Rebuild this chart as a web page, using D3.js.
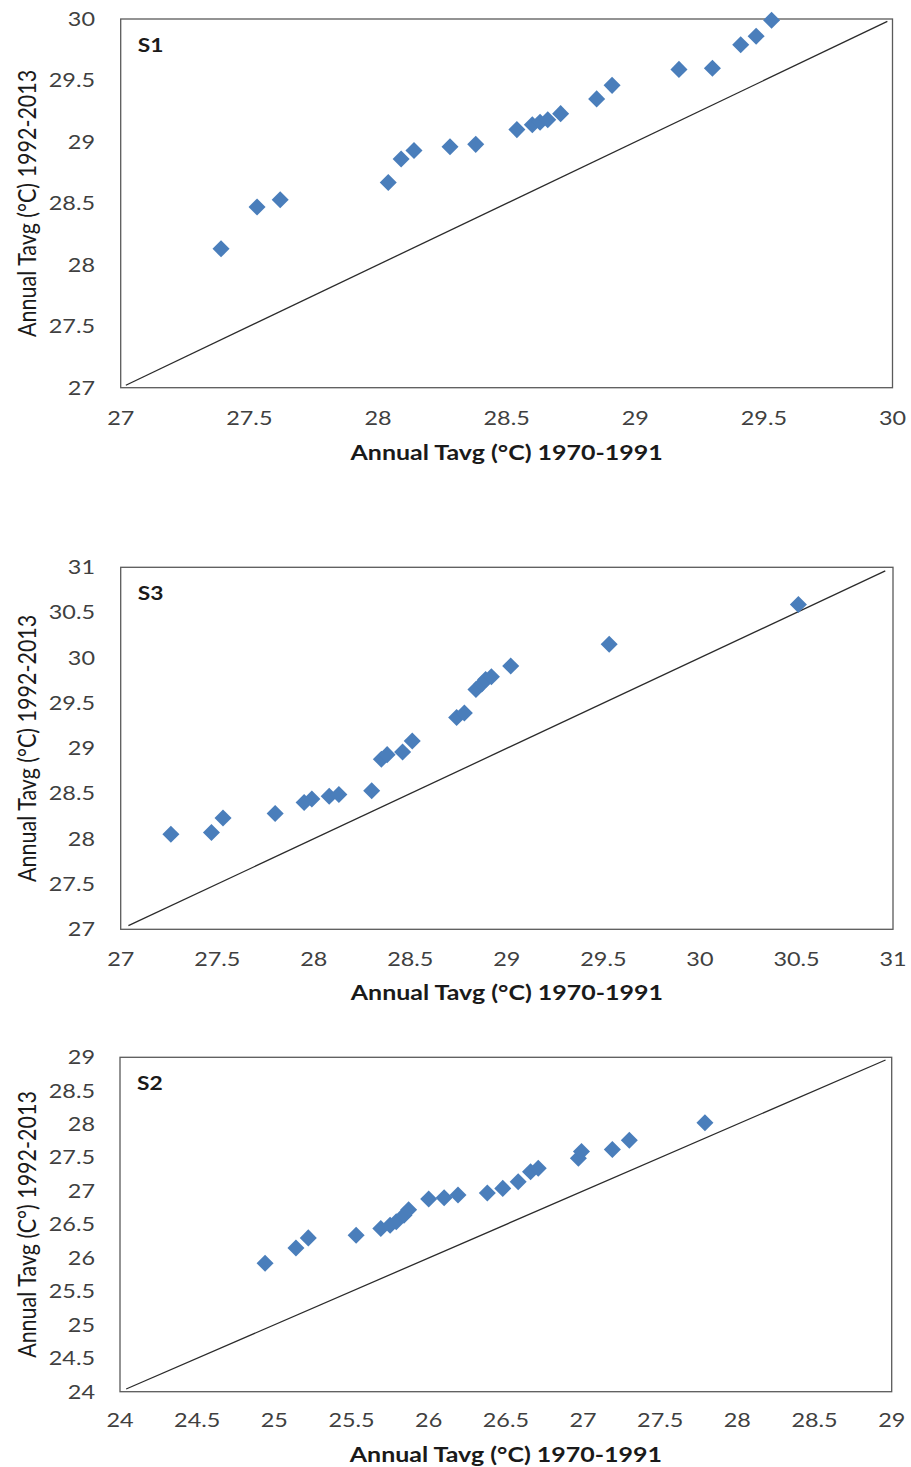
<!DOCTYPE html>
<html>
<head>
<meta charset="utf-8">
<script src="https://cdn.jsdelivr.net/npm/d3@7"></script>
<style>
  html, body { margin: 0; padding: 0; background: #fff; }
  svg { display: block; }
</style>
</head>
<body>
<svg id="chart" width="911" height="1467"></svg>
<script>
// Station S1: annual mean temperature, 1970-1991 (x) vs 1992-2013 (y)
const s1X = [27.39, 27.53, 27.62, 28.04, 28.09, 28.14, 28.28, 28.38, 28.54, 28.60,
             28.63, 28.66, 28.71, 28.85, 28.91, 29.17, 29.30, 29.41, 29.47, 29.53];
const s1Y = [28.13, 28.47, 28.53, 28.67, 28.86, 28.93, 28.96, 28.98, 29.10, 29.14,
             29.16, 29.18, 29.23, 29.35, 29.46, 29.59, 29.60, 29.79, 29.86, 29.99];
const s1Ticks = [27, 27.5, 28, 28.5, 29, 29.5, 30];
const s1Line = [27.02, 29.98];

// Station S3
const s3X = [27.26, 27.47, 27.53, 27.80, 27.95, 27.99, 28.08, 28.13, 28.30, 28.35, 28.38,
             28.46, 28.51, 28.74, 28.78, 28.84, 28.87, 28.89, 28.92, 29.02, 29.53, 30.51];
const s3Y = [28.05, 28.07, 28.23, 28.28, 28.40, 28.44, 28.47, 28.49, 28.53, 28.88, 28.93,
             28.96, 29.08, 29.34, 29.39, 29.65, 29.71, 29.76, 29.79, 29.91, 30.15, 30.59];
const s3Ticks = [27, 27.5, 28, 28.5, 29, 29.5, 30, 30.5, 31];
const s3Line = [27.04, 30.96];

// Station S2
const s2X = [24.94, 25.14, 25.22, 25.53, 25.69, 25.75, 25.79, 25.84, 25.87, 26.00, 26.10,
             26.19, 26.38, 26.48, 26.58, 26.66, 26.71, 26.97, 26.99, 27.19, 27.30, 27.79];
const s2Y = [25.92, 26.15, 26.30, 26.34, 26.44, 26.49, 26.54, 26.64, 26.72, 26.88, 26.90,
             26.94, 26.97, 27.04, 27.14, 27.29, 27.34, 27.49, 27.59, 27.62, 27.76, 28.02];
const s2Ticks = [24, 24.5, 25, 25.5, 26, 26.5, 27, 27.5, 28, 28.5, 29];
const s2Line = [24.04, 28.96];

const xTitle = "Annual Tavg (°C) 1970-1991";

const panels = [
  { name: "S1", xs: s1X, ys: s1Y, ticks: s1Ticks, line: s1Line,
    yTitle: "Annual Tavg (°C) 1992-2013",
    box: { left: 120.7, right: 892.5, top: 19, bottom: 387.7 },
    xLabelY: 418, xTitleY: 453 },
  { name: "S3", xs: s3X, ys: s3Y, ticks: s3Ticks, line: s3Line,
    yTitle: "Annual Tavg (°C) 1992-2013",
    box: { left: 120.7, right: 893, top: 567.3, bottom: 929.3 },
    xLabelY: 959, xTitleY: 993 },
  { name: "S2", xs: s2X, ys: s2Y, ticks: s2Ticks, line: s2Line,
    yTitle: "Annual Tavg (C°) 1992-2013",
    box: { left: 120, right: 891.7, top: 1057.3, bottom: 1391.7 },
    xLabelY: 1420, xTitleY: 1455 }
];

const svg = d3.select("#chart");
const FONT = "Lato, 'Open Sans', sans-serif";
const STRETCH = 1.2;           // glyphs are drawn slightly wide
const markerColor = "#4a7ebb";
const diamond = d3.symbol().type(d3.symbolDiamond2).size(185);

panels.forEach(p => {
  const b = p.box;
  const dom = d3.extent(p.ticks);
  const x = d3.scaleLinear().domain(dom).range([b.left, b.right]);
  const y = d3.scaleLinear().domain(dom).range([b.bottom, b.top]);
  const g = svg.append("g");

  // plot frame
  g.append("rect")
    .attr("x", b.left).attr("y", b.top)
    .attr("width", b.right - b.left).attr("height", b.bottom - b.top)
    .attr("fill", "none").attr("stroke", "#5a5a5a").attr("stroke-width", 1.3);

  // 1:1 reference line
  g.append("line")
    .attr("x1", x(p.line[0])).attr("y1", y(p.line[0]))
    .attr("x2", x(p.line[1])).attr("y2", y(p.line[1]))
    .attr("stroke", "#2b2b2b").attr("stroke-width", 1.3);

  // y tick labels
  g.selectAll(".ytick").data(p.ticks).join("text")
    .attr("transform", d => `translate(95,${y(d)}) scale(${STRETCH},1)`)
    .attr("dy", "0.35em")
    .attr("text-anchor", "end")
    .attr("font-family", FONT).attr("font-size", 19.5)
    .attr("fill", "#404040")
    .text(d => d);

  // x tick labels
  g.selectAll(".xtick").data(p.ticks).join("text")
    .attr("transform", d => `translate(${x(d)},${p.xLabelY}) scale(${STRETCH},1)`)
    .attr("dy", "0.35em")
    .attr("text-anchor", "middle")
    .attr("font-family", FONT).attr("font-size", 19.5)
    .attr("fill", "#404040")
    .text(d => d);

  // axis titles
  g.append("text")
    .attr("transform", `translate(${(b.left + b.right) / 2},${p.xTitleY}) scale(${STRETCH},1)`)
    .attr("dy", "0.35em")
    .attr("text-anchor", "middle")
    .attr("font-family", FONT).attr("font-size", 20.8).attr("font-weight", "bold")
    .attr("fill", "#1a1a1a")
    .text(xTitle);

  g.append("text")
    .attr("transform", `translate(27,${(b.top + b.bottom) / 2}) scale(${STRETCH},1) rotate(-90)`)
    .attr("dy", "0.35em")
    .attr("text-anchor", "middle")
    .attr("font-family", FONT).attr("font-size", 21.5)
    .attr("fill", "#1a1a1a")
    .text(p.yTitle);

  // station label
  g.append("text")
    .attr("transform", `translate(${b.left + 17},${b.top + 26}) scale(${STRETCH},1)`)
    .attr("dy", "0.35em")
    .attr("font-family", FONT).attr("font-size", 19).attr("font-weight", "bold")
    .attr("fill", "#1a1a1a")
    .text(p.name);

  // data markers
  g.selectAll(".pt").data(d3.range(p.xs.length)).join("path")
    .attr("d", diamond)
    .attr("transform", i => `translate(${x(p.xs[i])},${y(p.ys[i])})`)
    .attr("fill", markerColor);
});
</script>
</body>
</html>
